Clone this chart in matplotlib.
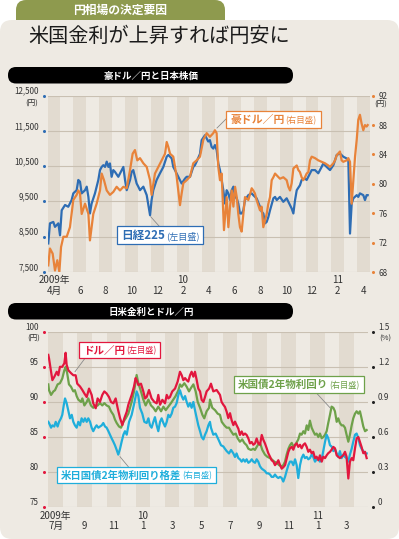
import matplotlib.pyplot as plt
import matplotlib.patches as mpatches

plt.rcParams['font.family'] = ['Noto Sans CJK JP', 'DejaVu Sans']

# ---- data (x = months since the first month shown) ----
# Chart 1: from 2009-04-01
nk_month = [0.06, 0.19, 0.45, 0.58, 0.84, 0.97, 1.10, 1.36, 1.61, 1.87,
            2.00, 2.26, 2.39, 2.52, 2.65, 2.91, 3.04, 3.17, 3.29, 3.42,
            3.68, 3.94, 4.07, 4.20, 4.33, 4.46, 4.59, 4.72, 4.84, 4.97,
            5.10, 5.23, 5.49, 5.75, 5.88, 6.01, 6.14, 6.40, 6.52, 6.65,
            6.78, 6.91, 7.04, 7.17, 7.43, 7.69, 7.95, 8.07, 8.20, 8.46,
            8.72, 8.98, 9.24, 9.37, 9.50, 9.63, 9.75, 9.88, 10.14, 10.40,
            10.66, 10.79, 11.05, 11.30, 11.43, 11.56, 11.82,
            11.95, 12.21, 12.46, 12.59, 12.72, 12.85, 12.98, 13.11, 13.24, 13.37,
            13.50, 13.63, 13.76, 13.89, 14.02, 14.15, 14.28, 14.41, 14.54, 14.67,
            14.79, 14.92, 15.05, 15.18, 15.31, 15.57, 15.83, 15.95, 16.21, 16.47,
            16.60, 16.73, 16.86, 16.99, 17.12, 17.25, 17.51, 17.64, 17.77, 18.02,
            18.28, 18.54, 18.80, 18.93, 19.06, 19.19, 19.32, 19.57, 19.70, 19.96,
            20.09, 20.35, 20.48, 20.74, 20.99, 21.25, 21.38, 21.64, 21.90, 22.16,
            22.29, 22.42, 22.67, 22.93, 23.19, 23.32, 23.45, 23.58, 23.71, 23.97,
            24.09, 24.22, 24.48, 24.61, 24.74, 24.82]
nk_value = [8310, 8880, 8920, 8780, 8880, 8540, 9250, 9400, 9350, 9540,
            9730, 9820, 10110, 10060, 9730, 9820, 9920, 9630, 9160, 9440,
            9730, 10110, 10390, 10480, 10530, 10480, 10630, 10480, 10580, 10200,
            10390, 10340, 10200, 10390, 10480, 10110, 9820, 10110, 10340, 10390,
            10200, 10010, 9920, 9820, 9920, 9680, 9110, 9540, 9820, 10110,
            10300, 10480, 10770, 10820, 10770, 10720, 10480, 10390, 10200, 10010,
            10150, 10200, 10200, 10480, 10530, 10630, 10850,
            11240, 11380, 11200, 11240, 11050, 11000, 11100, 10960, 10580, 10390,
            10110, 9820, 9440, 9820, 9730, 9540, 9820, 9920, 9630, 9590,
            9440, 9160, 9160, 9250, 9540, 9680, 9730, 9680, 9590, 9350,
            9210, 9160, 8880, 8920, 9060, 9250, 9590, 9630, 9540, 9630,
            9490, 9590, 9400, 9300, 9160, 9540, 9820, 9960, 10110, 10150,
            10110, 10300, 10390, 10390, 10300, 10480, 10580, 10480, 10390, 10530,
            10670, 10820, 10860, 10770, 10720, 10670, 8590, 9440, 9590, 9680,
            9630, 9730, 9680, 9540, 9680, 9680]

aud_month = [0.06, 0.19, 0.40, 0.58, 0.76, 0.92, 1.05, 1.23, 1.49, 1.74,
             2.00, 2.26, 2.39, 2.52, 2.65, 2.91, 3.17, 3.29, 3.42, 3.55,
             3.81, 4.07, 4.20, 4.38, 4.59, 4.84, 5.10, 5.36, 5.62, 5.88,
             6.14, 6.40, 6.60, 6.78, 6.96, 7.17, 7.43, 7.69, 7.95, 8.07,
             8.33, 8.59, 8.85, 9.11, 9.24, 9.37, 9.50, 9.75, 10.01, 10.27,
             10.40, 10.53, 10.79, 11.05, 11.30, 11.56, 11.82,
             12.08, 12.34, 12.59, 12.85, 12.98, 13.11, 13.24, 13.37, 13.50, 13.68,
             13.89, 14.02, 14.15, 14.28, 14.41, 14.54, 14.67, 14.79, 14.92, 15.05,
             15.18, 15.31, 15.57, 15.83, 15.95, 16.08, 16.21, 16.47, 16.60, 16.73,
             16.86, 16.99, 17.12, 17.25, 17.38, 17.51, 17.64, 18.02, 18.28, 18.54,
             18.67, 18.80, 18.93, 19.06, 19.19, 19.32, 19.44, 19.57, 19.70, 19.83,
             19.96, 20.09, 20.22, 20.35, 20.48, 20.74, 20.99, 21.25, 21.51, 21.77,
             21.90, 22.16, 22.29, 22.42, 22.67, 22.80, 22.93, 23.19, 23.32, 23.45,
             23.58, 23.71, 23.84, 23.97, 24.09, 24.22, 24.35, 24.48, 24.61, 24.74,
             24.82]
aud_value = [68.9, 71.2, 70.5, 68.2, 69.6, 68.0, 71.4, 72.8, 72.8, 74.1,
             77.8, 78.5, 79.1, 78.7, 75.9, 77.3, 75.9, 72.3, 74.1, 75.9,
             77.3, 79.1, 81.4, 80.5, 79.1, 78.5, 78.9, 79.6, 79.1, 79.6,
             79.4, 81.9, 84.1, 84.6, 83.2, 83.5, 82.8, 82.3, 80.5, 78.5,
             81.4, 82.3, 83.2, 84.1, 85.7, 85.0, 84.1, 83.7, 81.0, 77.1,
             78.7, 80.1, 80.5, 81.0, 82.8, 83.2, 83.7,
             86.0, 86.9, 86.4, 86.9, 87.3, 86.9, 82.3, 80.5, 81.4, 73.7,
             78.2, 74.1, 76.9, 79.1, 76.9, 79.6, 78.2, 75.9, 74.1, 73.5,
             75.9, 78.2, 77.8, 79.4, 79.1, 78.7, 77.8, 76.4, 76.9, 74.1,
             75.0, 75.9, 77.3, 78.2, 80.5, 80.9, 81.4, 80.7, 80.9, 80.5,
             79.6, 79.1, 80.1, 82.1, 82.3, 82.5, 81.9, 81.6, 80.9, 80.5,
             80.9, 81.4, 81.6, 83.2, 83.7, 83.5, 83.2, 83.0, 82.8, 82.5,
             82.3, 82.8, 83.2, 83.9, 84.4, 83.2, 83.0, 83.2, 83.5, 83.0,
             77.3, 80.5, 83.7, 86.0, 88.7, 89.4, 88.2, 87.3, 88.0, 87.8,
             88.0]

# Chart 2: from 2009-07-01
usd_month = [0.00, 0.05, 0.19, 0.28, 0.42, 0.58, 0.69, 0.80, 0.96, 1.10,
             1.19, 1.26, 1.38, 1.56, 1.72, 1.88, 1.99, 2.18, 2.34, 2.48,
             2.64, 2.80, 2.98, 3.09, 3.26, 3.39, 3.55, 3.71, 3.85, 4.01,
             4.17, 4.31, 4.47, 4.63, 4.77, 4.93, 5.09, 5.23, 5.39,
             5.50, 5.73, 5.89, 6.00, 6.07, 6.19, 6.37, 6.53, 6.65, 6.76,
             6.92, 7.10, 7.29, 7.45, 7.56, 7.68, 7.84, 8.02, 8.14, 8.25,
             8.36, 8.52, 8.71, 8.89, 9.05, 9.17, 9.28, 9.40, 9.51, 9.62,
             9.74, 9.85, 9.97, 10.08, 10.20, 10.31, 10.43, 10.54, 10.66, 10.77,
             10.88, 11.05,
             11.18, 11.34, 11.57, 11.80, 11.91, 12.03, 12.14, 12.26, 12.37, 12.49,
             12.60, 12.72, 12.83, 12.94, 13.06, 13.17, 13.29, 13.40, 13.52, 13.63,
             13.75, 13.86, 13.98, 14.09, 14.21, 14.32, 14.43, 14.55, 14.67, 14.78,
             14.89, 15.01, 15.12, 15.24, 15.35, 15.47, 15.58, 15.70, 15.81, 15.93,
             16.04, 16.15, 16.27, 16.38, 16.50, 16.61,
             16.73, 16.84, 16.96, 17.07, 17.18, 17.30, 17.41, 17.53, 17.64, 17.76,
             17.87, 17.98, 18.10, 18.21, 18.33, 18.44, 18.56, 18.67, 18.79, 18.90,
             19.02, 19.13, 19.24, 19.36, 19.47, 19.59, 19.70, 19.82, 19.93, 20.04,
             20.16, 20.27, 20.39, 20.50, 20.62, 20.73, 20.85, 20.96, 21.08, 21.19,
             21.31, 21.42, 21.53, 21.65, 21.77, 21.88]
usd_value = [96.7, 96.2, 94.3, 93.1, 93.6, 94.3, 93.8, 95.0, 95.0, 95.5,
             97.0, 95.3, 94.5, 94.1, 93.8, 93.8, 92.6, 92.2, 91.7, 91.2,
             90.7, 91.9, 91.0, 89.8, 89.1, 90.5, 90.0, 91.0, 91.5, 91.2,
             90.7, 90.0, 89.8, 90.5, 89.1, 87.7, 86.7, 87.7, 88.6,
             89.6, 91.0, 92.2, 93.4, 93.1, 92.4, 92.6, 91.5, 90.5, 90.7,
             91.7, 90.5, 90.0, 89.8, 91.0, 89.6, 90.3, 89.8, 91.0, 90.5,
             90.7, 91.5, 91.9, 92.9, 94.3, 93.8, 93.1, 93.4, 93.1, 92.9,
             93.8, 94.3, 93.6, 94.3, 93.1, 91.9, 91.5, 90.3, 90.0, 90.7,
             91.5, 91.9,
             92.6, 91.5, 91.7, 91.0, 90.0, 89.6, 89.3, 88.6, 87.7, 88.4,
             87.4, 86.7, 87.2, 86.7, 86.2, 85.3, 85.8, 85.3, 85.5, 85.3,
             84.8, 84.1, 84.3, 83.9, 84.1, 84.8, 84.1, 83.9, 85.3, 84.6,
             84.1, 83.4, 82.7, 82.2, 81.7, 81.5, 81.0, 81.3, 81.7, 81.0,
             80.5, 80.7, 81.0, 81.9, 82.9, 83.4,
             83.6, 83.2, 83.9, 84.1, 83.6, 83.9, 83.4, 83.9, 84.1, 83.6,
             82.9, 83.2, 82.7, 82.9, 82.0, 82.2, 81.7, 82.4, 81.5, 82.2,
             82.0, 82.4, 82.7, 82.9, 83.2, 83.6, 83.4, 82.4, 82.2, 82.0,
             82.2, 82.4, 82.9, 82.2, 79.1, 81.5, 82.0, 81.7, 83.4, 84.8,
             85.0, 84.3, 83.6, 82.7, 82.9, 82.0]

us2y_month = [0.00, 0.05, 0.19, 0.35, 0.46, 0.64, 0.80, 0.96, 1.10, 1.19,
              1.29, 1.42, 1.56, 1.72, 1.83, 1.95, 2.06, 2.25, 2.34, 2.48,
              2.64, 2.75, 2.93, 3.09, 3.21, 3.39, 3.55, 3.71, 3.85, 4.01,
              4.17, 4.31, 4.47, 4.58, 4.70, 4.86, 5.00, 5.16, 5.32,
              5.50, 5.73, 5.91, 6.07, 6.19, 6.37, 6.53, 6.69, 6.88, 7.06,
              7.22, 7.38, 7.56, 7.75, 7.91, 8.07, 8.25, 8.43, 8.59, 8.75,
              8.94, 9.05, 9.17, 9.35, 9.51, 9.67, 9.81, 9.97, 10.13, 10.27,
              10.43, 10.59, 10.72, 10.88, 11.05,
              11.11, 11.27, 11.46, 11.64, 11.80, 11.92, 12.10, 12.26, 12.42, 12.56,
              12.72, 12.88, 13.01, 13.17, 13.33, 13.47, 13.63, 13.75, 13.93, 14.09,
              14.20, 14.39, 14.55, 14.71, 14.89, 15.07, 15.24, 15.35, 15.53, 15.70,
              15.86, 16.04, 16.15, 16.27, 16.38, 16.50, 16.61,
              16.73, 16.84, 16.96, 17.18, 17.30, 17.41, 17.53, 17.64, 17.76, 17.87,
              17.98, 18.10, 18.21, 18.33, 18.44, 18.56, 18.67, 18.79, 18.90, 19.02,
              19.13, 19.24, 19.36, 19.47, 19.59, 19.70, 19.82, 19.93, 20.04, 20.16,
              20.27, 20.39, 20.50, 20.62, 20.73, 20.85, 20.96, 21.08, 21.19, 21.31,
              21.42, 21.53, 21.65, 21.77, 21.88]
us2y_value = [1.05, 1.00, 0.96, 0.99, 1.00, 1.05, 1.06, 1.10, 1.17, 1.20,
              1.15, 1.05, 1.03, 0.99, 1.00, 0.95, 0.92, 0.90, 0.93, 0.87,
              0.90, 0.93, 0.87, 0.85, 0.86, 0.87, 0.89, 0.87, 0.89, 0.87,
              0.86, 0.82, 0.79, 0.75, 0.72, 0.69, 0.68, 0.73, 0.76,
              0.80, 0.90, 1.00, 1.13, 1.06, 0.99, 0.92, 0.87, 0.92, 0.87,
              0.85, 0.82, 0.86, 0.82, 0.86, 0.83, 0.86, 0.89, 0.92, 0.95,
              1.00, 1.05, 1.03, 1.06, 1.03, 0.99, 1.02, 1.05, 0.99, 0.90,
              0.85, 0.79, 0.76, 0.82, 0.85,
              0.92, 0.85, 0.83, 0.80, 0.79, 0.73, 0.70, 0.68, 0.68, 0.65,
              0.62, 0.63, 0.59, 0.56, 0.58, 0.55, 0.53, 0.50, 0.49, 0.50,
              0.49, 0.53, 0.55, 0.49, 0.45, 0.43, 0.42, 0.41, 0.39, 0.38,
              0.36, 0.35, 0.36, 0.39, 0.45, 0.50, 0.53,
              0.55, 0.52, 0.53, 0.58, 0.63, 0.62, 0.65, 0.63, 0.70, 0.66,
              0.74, 0.68, 0.65, 0.62, 0.63, 0.60, 0.63, 0.59, 0.60, 0.62,
              0.65, 0.72, 0.79, 0.86, 0.85, 0.82, 0.73, 0.76, 0.72, 0.70,
              0.70, 0.68, 0.62, 0.56, 0.62, 0.70, 0.76, 0.80, 0.82, 0.80,
              0.82, 0.76, 0.69, 0.65, 0.66]

spread_month = [0.00, 0.05, 0.19, 0.28, 0.41, 0.51, 0.64, 0.74, 0.87, 0.96,
                1.06, 1.15, 1.26, 1.38, 1.49, 1.61, 1.72, 1.83, 1.95, 2.06,
                2.18, 2.29, 2.41, 2.52, 2.64, 2.75, 2.87, 2.98, 3.09, 3.21,
                3.32, 3.44, 3.55, 3.67, 3.78, 3.90, 4.01, 4.13, 4.24, 4.35,
                4.47, 4.58, 4.70, 4.81, 4.93, 5.04, 5.16, 5.27, 5.39,
                5.55, 5.73, 5.91, 6.07, 6.19, 6.30, 6.46, 6.60, 6.76, 6.88,
                6.99, 7.10, 7.22, 7.33, 7.45, 7.56, 7.68, 7.79, 7.91, 8.02,
                8.14, 8.25, 8.36, 8.48, 8.59, 8.71, 8.82, 8.94, 9.05, 9.17,
                9.28, 9.40, 9.51, 9.62, 9.74, 9.85, 9.97, 10.08, 10.20, 10.31,
                10.43, 10.54, 10.66, 10.77, 10.88, 11.00, 11.11,
                11.18, 11.34, 11.50, 11.69, 11.87, 12.03, 12.14, 12.26, 12.42, 12.56,
                12.72, 12.83, 12.94, 13.06, 13.17, 13.29, 13.40, 13.52, 13.63, 13.75,
                13.86, 13.98, 14.09, 14.21, 14.32, 14.43, 14.55, 14.67, 14.78, 14.89,
                15.01, 15.12, 15.24, 15.35, 15.47, 15.58, 15.70, 15.81, 15.93, 16.04,
                16.15, 16.27, 16.38, 16.50, 16.61,
                16.73, 16.84, 16.96, 17.07, 17.18, 17.30, 17.41, 17.53, 17.64, 17.76,
                17.87, 17.98, 18.10, 18.21, 18.33, 18.44, 18.56, 18.67, 18.79, 18.90,
                19.02, 19.13, 19.24, 19.36, 19.47, 19.59, 19.70, 19.82, 19.93, 20.04,
                20.16, 20.27, 20.39, 20.50, 20.62, 20.73, 20.85, 20.96, 21.08, 21.19,
                21.31, 21.42, 21.53, 21.65, 21.77, 21.88]
spread_value = [0.73, 0.72, 0.68, 0.70, 0.69, 0.73, 0.69, 0.73, 0.76, 0.79,
                0.87, 0.93, 0.89, 0.82, 0.76, 0.79, 0.73, 0.70, 0.68, 0.73,
                0.70, 0.76, 0.73, 0.76, 0.73, 0.76, 0.73, 0.68, 0.65, 0.68,
                0.70, 0.68, 0.69, 0.70, 0.72, 0.69, 0.68, 0.65, 0.62, 0.59,
                0.56, 0.53, 0.49, 0.45, 0.50, 0.56, 0.62, 0.65, 0.62,
                0.73, 0.79, 0.89, 0.99, 0.95, 0.85, 0.80, 0.73, 0.72, 0.76,
                0.70, 0.68, 0.73, 0.77, 0.70, 0.65, 0.73, 0.76, 0.72, 0.69,
                0.73, 0.79, 0.77, 0.80, 0.85, 0.86, 0.89, 0.96, 1.00, 0.95,
                0.92, 0.95, 0.90, 0.86, 0.89, 0.85, 0.90, 0.83, 0.76, 0.70,
                0.65, 0.60, 0.58, 0.62, 0.65, 0.70, 0.73,
                0.68, 0.62, 0.63, 0.58, 0.53, 0.52, 0.50, 0.48, 0.46, 0.49,
                0.46, 0.43, 0.46, 0.42, 0.41, 0.39, 0.41, 0.39, 0.41, 0.38,
                0.39, 0.41, 0.39, 0.38, 0.41, 0.39, 0.35, 0.33, 0.32, 0.31,
                0.29, 0.29, 0.28, 0.26, 0.26, 0.28, 0.26, 0.25, 0.26, 0.25,
                0.22, 0.26, 0.31, 0.36, 0.39,
                0.39, 0.36, 0.41, 0.36, 0.25, 0.36, 0.42, 0.45, 0.42, 0.43,
                0.41, 0.42, 0.45, 0.43, 0.39, 0.41, 0.42, 0.39, 0.41, 0.48,
                0.56, 0.62, 0.59, 0.53, 0.52, 0.48, 0.50, 0.46, 0.43, 0.48,
                0.42, 0.45, 0.43, 0.42, 0.39, 0.45, 0.50, 0.56, 0.62, 0.63,
                0.59, 0.53, 0.50, 0.48, 0.46, 0.46]

# axis ticks / labels
nk_ticks = [7500, 8500, 9500, 10500, 11500, 12500]
aud_ticks = [68, 72, 76, 80, 84, 88, 92]
top_month_labels = ['4月', '6', '8', '10', '12', '2', '4', '6', '8', '10', '12', '2', '4']
top_year_labels = [(0, '2009年'), (10, '10'), (22, '11')]
usd_ticks = [75, 80, 85, 90, 95, 100]
pct_ticks = [0, 0.3, 0.6, 0.9, 1.2, 1.5]
pct_labels = ['0', '0.3', '0.6', '0.9', '1.2', '1.5']
bot_month_labels = ['7月', '9', '11', '1', '3', '5', '7', '9', '11', '1', '3']
bot_year_labels = [(0, '2009年'), (6, '10'), (18, '11')]

# colours
PANEL = '#EEEAE3'
BAND = '#E2DBD0'
GRID = '#C9C0B2'
TXT = '#333333'
BLUE = '#2E6DB4'
ORANGE = '#E8833A'
RED = '#E2173E'
GREEN = '#6EA14A'
CYAN = '#1FAEDB'
OLIVE = '#8E9A4E'
LW = 1.6

W, H = 399, 539
fig = plt.figure(figsize=(W / 100, H / 100), dpi=100, facecolor='white')


def pixel_axes(z):
    a = fig.add_axes([0, 0, 1, 1], zorder=z)
    a.set_xlim(0, W)
    a.set_ylim(H, 0)
    a.axis('off')
    return a


# background, tab, title, section bars
bg = pixel_axes(0)
bg.add_patch(mpatches.FancyBboxPatch((16, 0), 209, 34, boxstyle='round,pad=0,rounding_size=10',
                                     fc=OLIVE, ec='none'))
bg.add_patch(mpatches.FancyBboxPatch((0, 20), W, H - 20, boxstyle='round,pad=0,rounding_size=12',
                                     fc=PANEL, ec='none'))
bg.text(120, 10.5, '円相場の決定要因', fontsize=8.5, fontweight='bold', color='white',
        ha='center', va='center')
bg.text(28, 36, '米国金利が上昇すれば円安に', fontsize=14.5, color='#1a1a1a',
        ha='left', va='center')
for y0, title in [(67, '豪ドル／円と日本株価'), (303, '日米金利とドル／円')]:
    bg.add_patch(mpatches.FancyBboxPatch((8, y0), 285, 16.5, boxstyle='round,pad=0,rounding_size=8',
                                         fc='black', ec='none'))
    bg.text(151, y0 + 8.5, title, fontsize=6.8, fontweight='bold', color='white',
            ha='center', va='center')

# unit labels
bg.text(32, 104, '(円)', fontsize=5.5, color=TXT, ha='center', va='center')
bg.text(381, 104.5, '(円)', fontsize=5.5, color=TXT, ha='center', va='center')
bg.text(34, 339, '(円)', fontsize=5.5, color=TXT, ha='center', va='center')
bg.text(385, 339, '(%)', fontsize=5.5, color=TXT, ha='center', va='center')


def month_bands(ax, n_months):
    for m in range(0, n_months, 2):
        ax.axvspan(m, m + 1, color=BAND, lw=0, zorder=0)


def month_labels(ax, n_months, labels, years, year_y):
    ax.set_xlim(0, n_months)
    ax.set_xticks([m + 0.5 for m in range(0, n_months, 2)])
    ax.set_xticklabels(labels)
    ax.tick_params(axis='x', length=0, pad=10, labelsize=7, labelcolor=TXT)
    for m, lab in years:
        ax.text(m + 0.5, year_y, lab, transform=ax.get_xaxis_transform(), fontsize=7,
                color=TXT, ha='center', va='center')


def hide_spines(ax):
    for s in ax.spines.values():
        s.set_visible(False)


def dots(ax, x, ticks, color):
    ax.plot([x] * len(ticks), ticks, 'o', ms=2.2, color=color, mec='none',
            transform=ax.get_yaxis_transform(), clip_on=False)


# ===== Chart 1: AUD/JPY and Nikkei =====
ax1 = fig.add_axes([47.5 / W, 1 - 272 / H, 322.5 / W, 176.3 / H], zorder=1)
ax1.patch.set_visible(False)
month_bands(ax1, 25)
month_labels(ax1, 25, top_month_labels, top_year_labels, -0.047)
hide_spines(ax1)
ax1.set_ylim(7500, 12500)
for v in nk_ticks:
    ax1.axhline(v, color=GRID, lw=0.8, zorder=0.5)
ax1.plot(nk_month, nk_value, color=BLUE, lw=LW, zorder=2)
ax1.set_yticks(nk_ticks)
ax1.set_yticklabels([f'{v:,}' for v in nk_ticks], va='bottom')
ax1.tick_params(axis='y', length=0, pad=6.5, labelsize=5.8, labelcolor=TXT)
dots(ax1, -0.01, nk_ticks, BLUE)

ax1r = ax1.twinx()
ax1r.set_ylim(68, 92)
ax1r.plot(aud_month, aud_value, color=ORANGE, lw=LW)
ax1r.set_yticks(aud_ticks)
ax1r.tick_params(axis='y', length=0, pad=6, labelsize=5.8, labelcolor=TXT)
hide_spines(ax1r)
dots(ax1r, 1.0095, aud_ticks, ORANGE)

# ===== Chart 2: rates and USD/JPY =====
ax2 = fig.add_axes([48.3 / W, 1 - 507.3 / H, 320.1 / W, 175.6 / H], zorder=1)
ax2r = ax2.twinx()
# bands, grid and the two yield lines sit on the right-hand axes (drawn first)
month_bands(ax2r, 22)
hide_spines(ax2r)
ax2r.set_ylim(0, 1.5)
for v in pct_ticks:
    ax2r.axhline(v, color=GRID, lw=0.8, zorder=0.5)
ax2r.plot(us2y_month, us2y_value, color=GREEN, lw=LW, zorder=2)
ax2r.plot(spread_month, spread_value, color=CYAN, lw=LW, zorder=3)
ax2r.set_yticks(pct_ticks)
ax2r.set_yticklabels(pct_labels, va='bottom')
ax2r.tick_params(axis='y', length=0, pad=7, labelsize=5.8, labelcolor=TXT)
dots(ax2r, 1.0156, pct_ticks, '#222222')

# USD/JPY on top
ax2.set_zorder(ax2r.get_zorder() + 1)
ax2.patch.set_visible(False)
month_labels(ax2, 22, bot_month_labels, bot_year_labels, -0.05)
hide_spines(ax2)
ax2.set_ylim(75, 100)
ax2.plot(usd_month, usd_value, color=RED, lw=LW, zorder=4)
ax2.set_yticks(usd_ticks)
ax2.set_yticklabels([str(v) for v in usd_ticks], va='bottom')
ax2.tick_params(axis='y', length=0, pad=7, labelsize=5.8, labelcolor=TXT)
dots(ax2, -0.0125, usd_ticks, RED)

# ===== labels with leader lines =====
ov = pixel_axes(10)
renderer = fig.canvas.get_renderer()


def label_box(x0, y0, y1, main, sub, color, size=7.8, leader=None):
    yb = (y0 + y1) / 2 + size * 0.48
    t1 = ov.text(x0 + 4, yb, main, fontsize=size, fontweight='bold', color=color,
                 ha='left', va='baseline', zorder=3)
    x_mid = t1.get_window_extent(renderer).x1 + 1
    t2 = ov.text(x_mid, yb, sub, fontsize=size * 0.78, color=color,
                 ha='left', va='baseline', zorder=3)
    x1 = t2.get_window_extent(renderer).x1 + 4
    ov.add_patch(mpatches.Rectangle((x0, y0), x1 - x0, y1 - y0, fc='white', ec=color,
                                    lw=0.9, zorder=2))
    if leader:
        ov.plot(leader[0], leader[1], color='#8a8a8a', lw=0.6, zorder=1)


label_box(117, 226, 244, '日経225', '(左目盛)', BLUE, size=8.4,
          leader=([150.7, 159], [216.7, 226]))
label_box(226, 111, 128, '豪ドル／円', '(右目盛)', ORANGE, size=7.8,
          leader=([217, 226], [128, 119]))
label_box(79, 342, 358, 'ドル／円', '(左目盛)', RED, size=7.6,
          leader=([75, 85], [371.7, 358.3]))
label_box(234, 376, 393, '米国債2年物利回り', '(右目盛)', GREEN, size=7.6,
          leader=([316.7, 330], [393.3, 407.7]))
label_box(57, 467, 483, '米日国債2年物利回り格差', '(右目盛)', CYAN, size=7.5,
          leader=([120, 128.3], [456.7, 466.7]))

fig.savefig('out.png', dpi=100, facecolor='white')
